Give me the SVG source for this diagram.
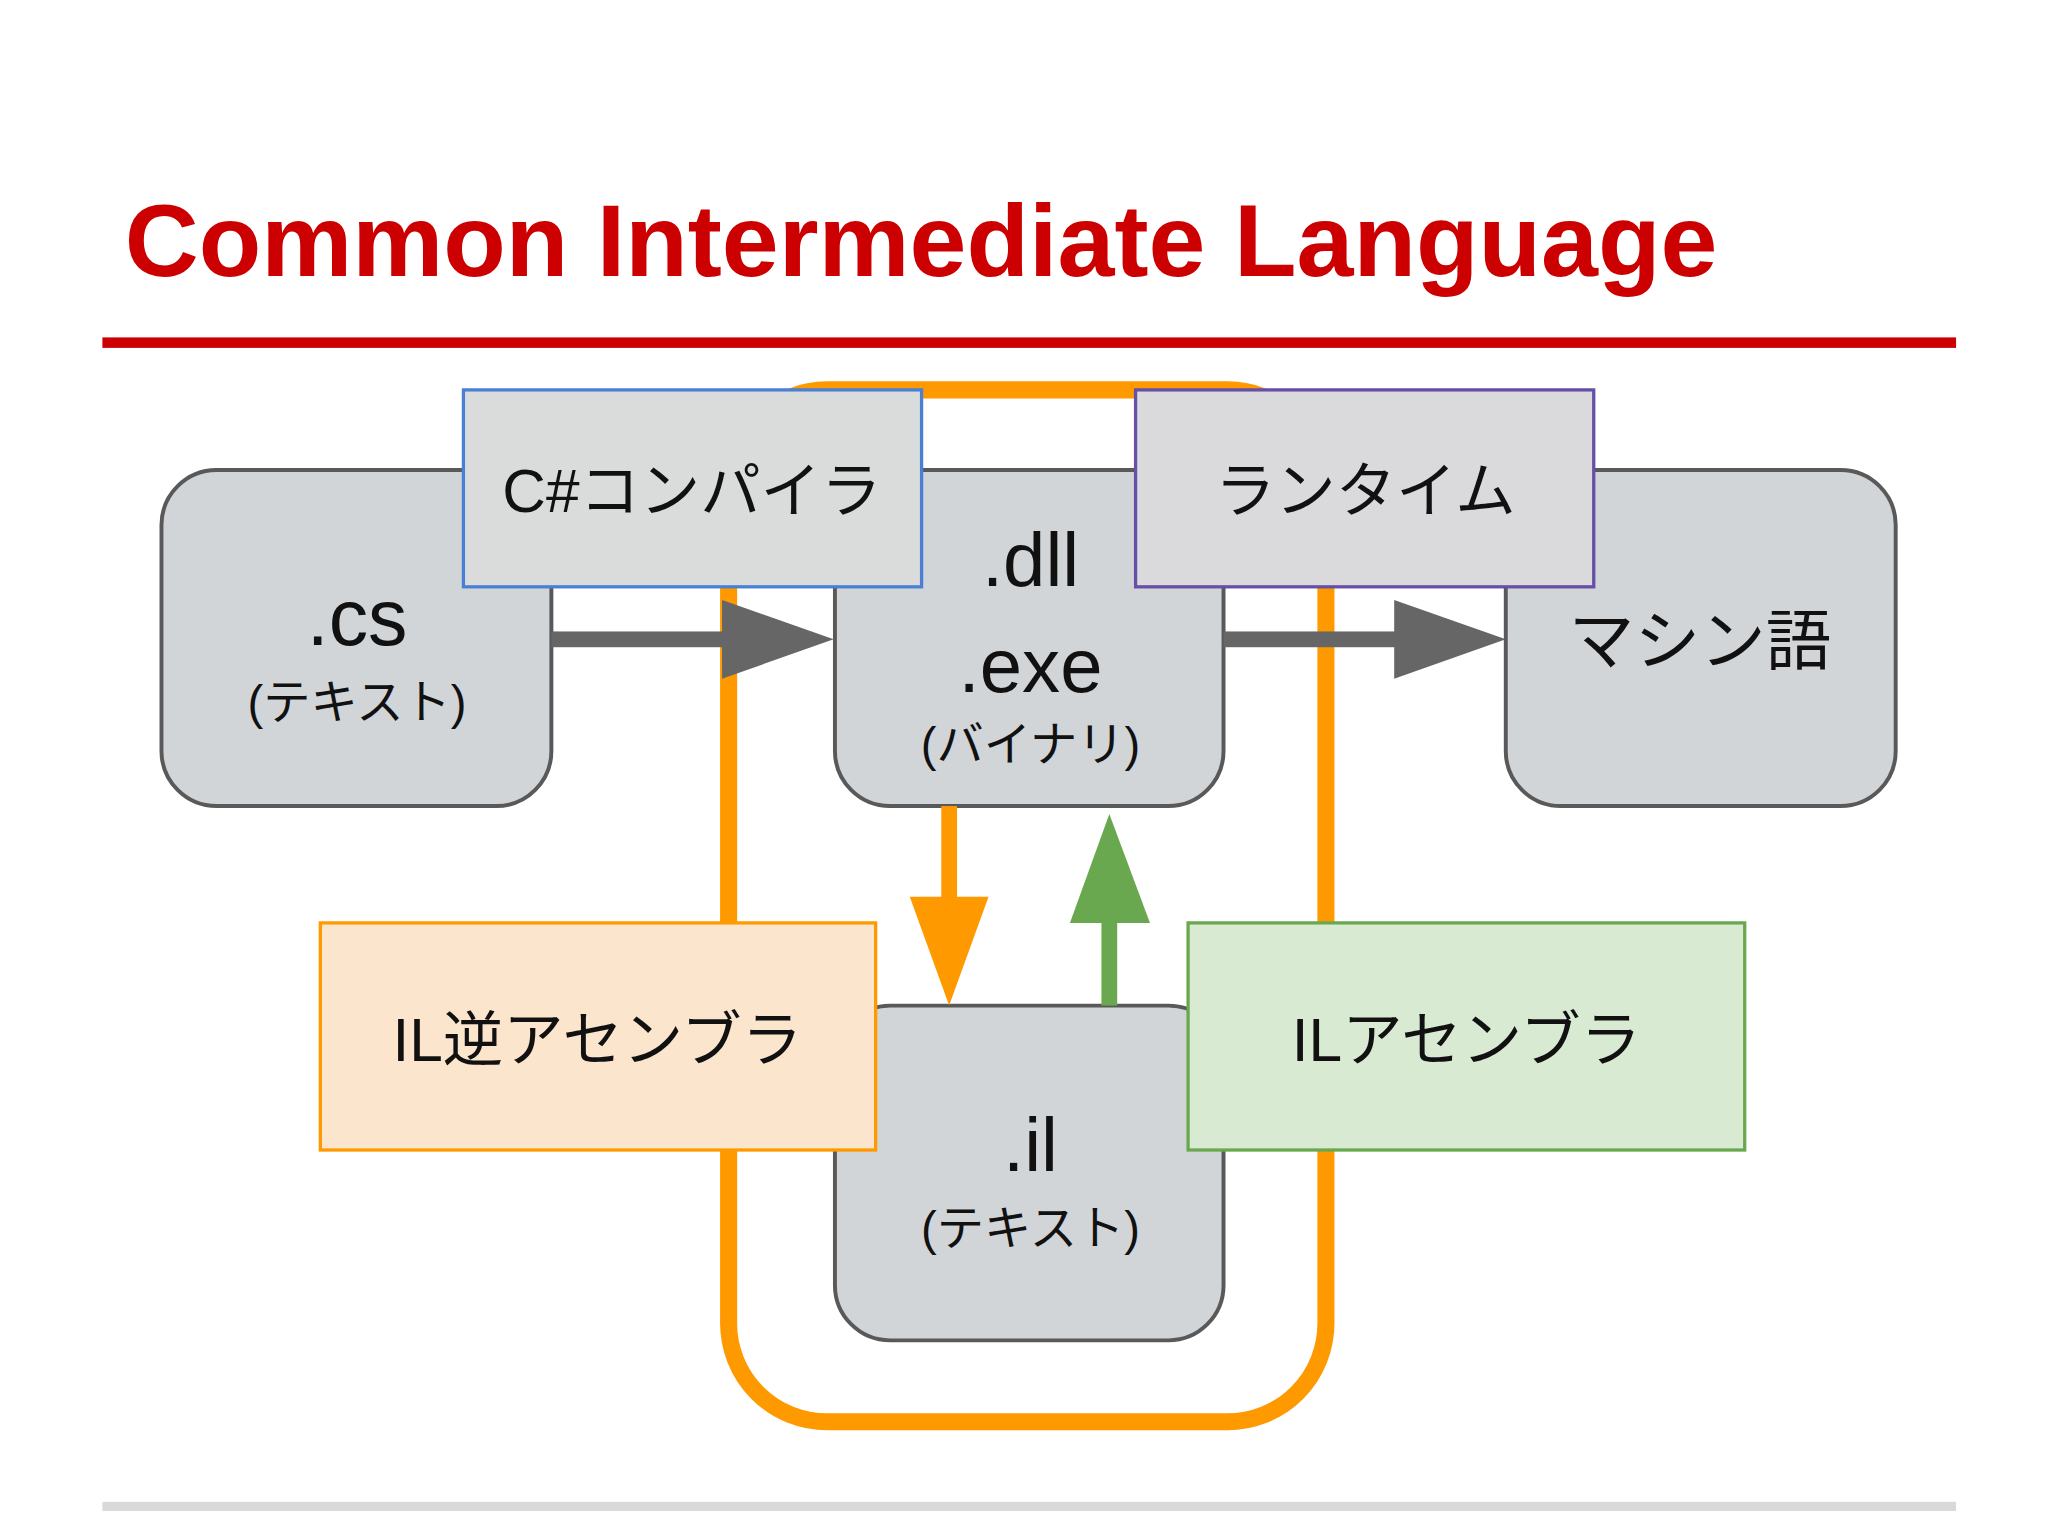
<svg xmlns="http://www.w3.org/2000/svg" width="2048" height="1536" viewBox="0 0 2048 1536">
<style>
text{font-family:"Liberation Sans","Noto Sans CJK JP",sans-serif;text-anchor:middle;fill:#111}
.node{fill:#d2d5d8;stroke:#595959;stroke-width:3}
.lbl{font-size:46px}
</style>
<rect width="2048" height="1536" fill="#ffffff"/>
<g transform="scale(1.3128)">
<text x="95" y="210" style="text-anchor:start;font-size:78px;font-weight:bold;fill:#cc0000">Common Intermediate Language</text>
<rect x="78" y="257" width="1412" height="8" fill="#cc0000"/>
<rect x="78" y="1144" width="1412" height="7" fill="#d9d9d9"/>
<g id="connectors">
<rect x="555" y="297" width="455" height="786" rx="75" fill="none" stroke="#ff9900" stroke-width="13"/>
</g>
<g id="cs"><rect class="node" x="123" y="358" width="297" height="256" rx="42"/>
<text x="272" y="491" font-size="60">.cs</text><text x="272" y="548" font-size="36">(テキスト)</text></g>
<g id="dll"><rect class="node" x="636" y="358" width="296" height="256" rx="42"/>
<text x="785" y="446" font-size="58">.dll</text><text x="785" y="527" font-size="58">.exe</text><text x="785" y="580" font-size="36">(バイナリ)</text></g>
<g id="machine"><rect class="node" x="1147" y="358" width="297" height="256" rx="42"/>
<text x="1295" y="506" font-size="50">マシン語</text></g>
<g id="il"><rect class="node" x="636" y="766" width="296" height="255" rx="42"/>
<text x="785" y="892" font-size="58">.il</text><text x="785" y="948" font-size="36">(テキスト)</text></g>
<g id="arrows">
<rect x="420" y="481" width="135" height="12" fill="#666"/><polygon points="550,457 635,487 550,517" fill="#666"/>
<rect x="932" y="481" width="135" height="12" fill="#666"/><polygon points="1062,457 1147,487 1062,517" fill="#666"/>
<rect x="717" y="614" width="12" height="72" fill="#ff9900"/><polygon points="693,683 753,683 723,766" fill="#ff9900"/>
<rect x="839" y="700" width="12" height="66" fill="#6aa84f"/><polygon points="815,703 876,703 845,620" fill="#6aa84f"/>
</g>
<g id="compiler"><rect x="353" y="297" width="349" height="150" fill="#d9dcdb" stroke="#4a7fd6" stroke-width="2.5"/>
<text class="lbl" x="527" y="390">C#コンパイラ</text></g>
<g id="runtime"><rect x="865" y="297" width="349" height="150" fill="#dadadd" stroke="#674ea7" stroke-width="2.5"/>
<text class="lbl" x="1040" y="390">ランタイム</text></g>
<g id="ildasm"><rect x="244" y="703" width="423" height="173" fill="#fce5cd" stroke="#ff9900" stroke-width="2.5"/>
<text class="lbl" x="455" y="808">IL逆アセンブラ</text></g>
<g id="ilasm"><rect x="905" y="703" width="424" height="173" fill="#d9ead3" stroke="#6aa84f" stroke-width="2.5"/>
<text class="lbl" x="1117" y="808">ILアセンブラ</text></g>
</g>
</svg>
